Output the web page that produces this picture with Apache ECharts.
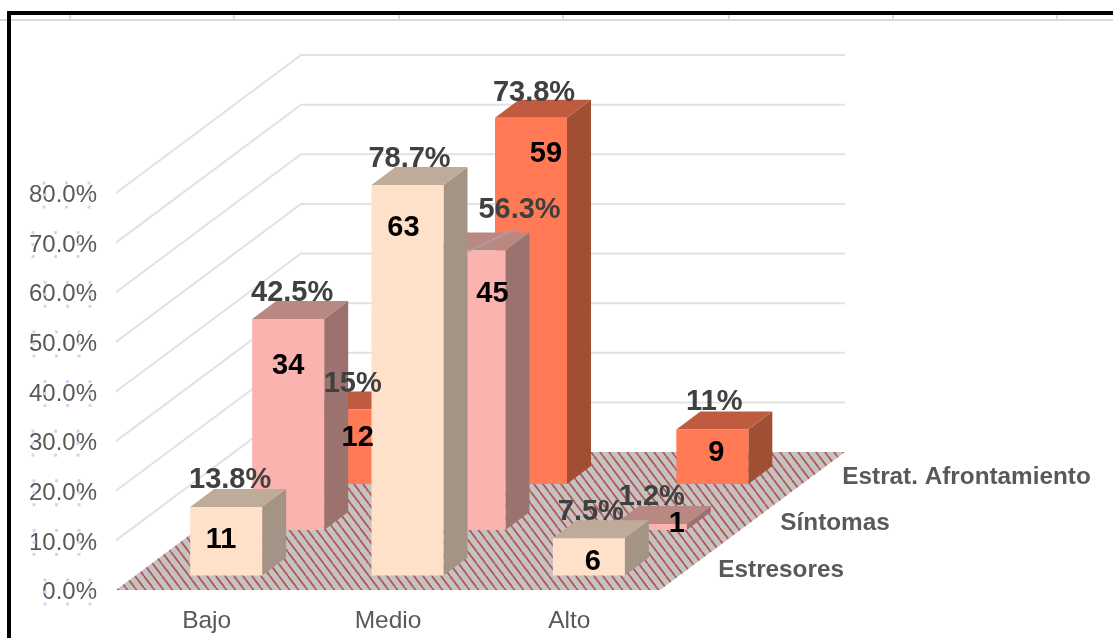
<!DOCTYPE html>
<html><head><meta charset="utf-8">
<script src="https://cdn.jsdelivr.net/npm/echarts@6/dist/echarts.min.js"></script>
<style>html,body{margin:0;padding:0;background:#fff}#c{width:1113px;height:638px}</style>
</head><body><div id="c"></div>
<script>
const categories = ['Bajo', 'Medio', 'Alto'];
const rowNames = ['Estresores', 'Síntomas', 'Estrat. Afrontamiento'];
const estresoresPct = [13.8, 78.7, 7.5];
const sintomasPct = [42.5, 56.3, 1.2];
const afrontamientoPct = [15, 73.8, 11];
const estresoresCount = [11, 63, 6];
const sintomasCount = [34, 45, 1];
const afrontamientoCount = [12, 59, 9];
const estresoresText = ['13.8%', '78.7%', '7.5%'];
const sintomasText = ['42.5%', '56.3%', '1.2%'];
const afrontamientoText = ['15%', '73.8%', '11%'];
const yTicks = [0, 10, 20, 30, 40, 50, 60, 70, 80];

// style / projection constants
const FONT = '"Liberation Sans", Arial, sans-serif';
const BAR_W = 72, DEPTH_X = 24, DEPTH_Y = -18;
const ROW_X = [19.5, 81.5, 143], ROW_Y = [-14.5, -60, -106];
const WALL_X = 185, WALL_Y = -138, FLOOR_W = 544;
const rowFaces = [
  {front: '#FFE1CA', top: '#BFAB9A', side: '#A39485'},
  {front: '#FAB3AF', top: '#BA8883', side: '#9C726E'},
  {front: '#FF7A55', top: '#BF5B3F', side: '#A04F35'}
];
// label nudges relative to the bar's front-top centre
const pctNudge = [[[4,-27],[2,-26],[2,-26]], [[4,-26],[50,-41],[1,-27]], [[3,-26],[3,-25],[2,-27]]];
const countNudge = [[[-5,33],[-4,43],[4,24]], [[0,47],[23,43],[26,0]], [[8,28],[15,36],[4,24]]];
const handleLeft = [45, 34, 34, 33, 45, 34, 45, 33, 44];

const pctRows = [estresoresPct, sintomasPct, afrontamientoPct];
const countRows = [estresoresCount, sintomasCount, afrontamientoCount];
const textRows = [estresoresText, sintomasText, afrontamientoText];

function hatch() {
  const w = 9, h = 12;
  const c = document.createElement('canvas');
  c.width = w; c.height = h;
  const g = c.getContext('2d');
  g.fillStyle = '#C4C2C2';
  g.fillRect(0, 0, w, h);
  g.strokeStyle = '#B4544F';
  g.lineWidth = 1.7;
  for (let i = -w; i <= w; i += w) {
    g.beginPath(); g.moveTo(i, 0); g.lineTo(i + w, h); g.stroke();
  }
  return c;
}
const floorPattern = {image: hatch(), repeat: 'repeat'};

function barSeries(row) {
  return {
    type: 'custom', coordinateSystem: 'cartesian2d', z: 8 - row, silent: true,
    data: pctRows[row].map((v, i) => [i, v]),
    renderItem(params, api) {
      const top = api.coord([api.value(0), api.value(1)]);
      const base = api.coord([api.value(0), 0]);
      const x0 = base[0] + ROW_X[row] - BAR_W / 2, x1 = x0 + BAR_W;
      const yB = base[1] + ROW_Y[row], yT = top[1] + ROW_Y[row];
      const f = rowFaces[row];
      return {type: 'group', children: [
        {type: 'polygon', shape: {points: [[x1,yB],[x1+DEPTH_X,yB+DEPTH_Y],[x1+DEPTH_X,yT+DEPTH_Y],[x1,yT]]}, style: {fill: f.side}},
        {type: 'polygon', shape: {points: [[x0,yT],[x1,yT],[x1+DEPTH_X,yT+DEPTH_Y],[x0+DEPTH_X,yT+DEPTH_Y]]}, style: {fill: f.top}},
        {type: 'rect', shape: {x: x0, y: yT, width: BAR_W, height: yB - yT}, style: {fill: f.front}}
      ]};
    }
  };
}

function labelSeries(row) {
  return {
    type: 'custom', coordinateSystem: 'cartesian2d', z: 20, silent: true,
    data: pctRows[row].map((v, i) => [i, v]),
    renderItem(params, api) {
      const i = api.value(0);
      const top = api.coord([i, api.value(1)]);
      const cx = top[0] + ROW_X[row], ty = top[1] + ROW_Y[row];
      const p = pctNudge[row][i], n = countNudge[row][i];
      const kids = [];
      if (row === 1 && i === 1) {
        kids.push({type: 'line', shape: {x1: cx - 1, y1: ty + 1, x2: cx + 48, y2: ty - 23}, style: {stroke: '#A6A6A6', lineWidth: 1.5}});
      }
      kids.push({type: 'text', style: {x: cx + p[0], y: ty + p[1], text: textRows[row][i], font: 'bold 29px ' + FONT, fill: '#404040', align: 'center', verticalAlign: 'middle'}});
      kids.push({type: 'text', style: {x: cx + n[0], y: ty + n[1], text: String(countRows[row][i]), font: 'bold 29px ' + FONT, fill: '#000', align: 'center', verticalAlign: 'middle'}});
      return {type: 'group', children: kids};
    }
  };
}

const option = {
  animation: false,
  backgroundColor: '#fff',
  grid: {left: 116, top: 193, width: FLOOR_W, height: 397, containLabel: false},
  xAxis: {type: 'category', data: categories, axisLine: {show: false}, axisTick: {show: false},
    axisLabel: {color: '#595959', fontSize: 24.5, fontFamily: FONT, margin: 19}},
  yAxis: {type: 'value', min: 0, max: 80, interval: 10, splitLine: {show: false}, axisLine: {show: false}, axisTick: {show: false},
    axisLabel: {color: '#595959', fontSize: 24, fontFamily: FONT, margin: 19, verticalAlign: 'top', lineHeight: 5, formatter: v => v.toFixed(1) + '%'}},
  graphic: [
    {type: 'rect', z: 50, shape: {x: 0, y: 19, width: 1113, height: 2}, style: {fill: '#D9D9D9'}},
    ...[70, 234, 399, 563, 729, 893, 1057].map(x => ({type: 'rect', z: 50, shape: {x: x - 1, y: 15, width: 2, height: 5}, style: {fill: '#D9D9D9'}})),
    {type: 'rect', z: 51, shape: {x: 7, y: 11, width: 1106, height: 4}, style: {fill: '#000'}},
    {type: 'rect', z: 51, shape: {x: 7, y: 11, width: 4, height: 627}, style: {fill: '#000'}}
  ],
  series: [
    {type: 'custom', coordinateSystem: 'cartesian2d', z: 1, silent: true, data: yTicks.map(v => [0, v]),
      renderItem(params, api) {
        const p = api.coord([0, api.value(1)]);
        const x = 116, y = p[1];
        const kids = [];
        if (api.value(1) > 0) {
          kids.push({type: 'polyline', shape: {points: [[x, y], [x + WALL_X, y + WALL_Y], [x + WALL_X + FLOOR_W, y + WALL_Y]]},
            style: {stroke: '#E2E2E2', lineWidth: 2, fill: null}});
        }
        return {type: 'group', children: kids};
      }},
    {type: 'custom', coordinateSystem: 'cartesian2d', z: 2, silent: true, data: [[0, 0]],
      renderItem(params, api) {
        const p = api.coord([0, 0]);
        const x = 116, y = p[1];
        return {type: 'polygon', shape: {points: [[x, y], [x + FLOOR_W, y], [x + FLOOR_W + WALL_X, y + WALL_Y], [x + WALL_X, y + WALL_Y]]},
          style: {fill: floorPattern}};
      }},
    barSeries(2), barSeries(1), barSeries(0),
    labelSeries(2), labelSeries(1), labelSeries(0),
    {type: 'custom', coordinateSystem: 'cartesian2d', z: 20, silent: true, data: rowNames.map((n, i) => [2, 0, i]),
      renderItem(params, api) {
        const i = api.value(2);
        const p = api.coord([2, 0]);
        return {type: 'text', style: {x: p[0] + 149 + 62 * i, y: p[1] - 20 - 46.5 * i, text: rowNames[i], font: 'bold 24.3px ' + FONT, fill: '#595959', align: 'left', verticalAlign: 'middle'}};
      }},
    {type: 'custom', coordinateSystem: 'cartesian2d', z: 3, silent: true, data: yTicks.map((v, i) => [0, v, i]),
      renderItem(params, api) {
        const p = api.coord([0, api.value(1)]);
        const left = handleLeft[api.value(2)];
        const cy = p[1] + 2;
        const dots = [];
        [0, 22.5, 45].forEach((dx, c) => {
          [-12, 0, 12].forEach((dy, r) => {
            if (c === 1 && r === 1) return;
            dots.push({type: 'rect', shape: {x: left + dx - 1.5, y: cy + dy - 1.5, width: 3, height: 3}, style: {fill: '#C6D9F5'}});
          });
        });
        return {type: 'group', children: dots};
      }}
  ]
};
const chart = echarts.init(document.getElementById('c'), null, {renderer: 'canvas'});
chart.setOption(option);
</script></body></html>
